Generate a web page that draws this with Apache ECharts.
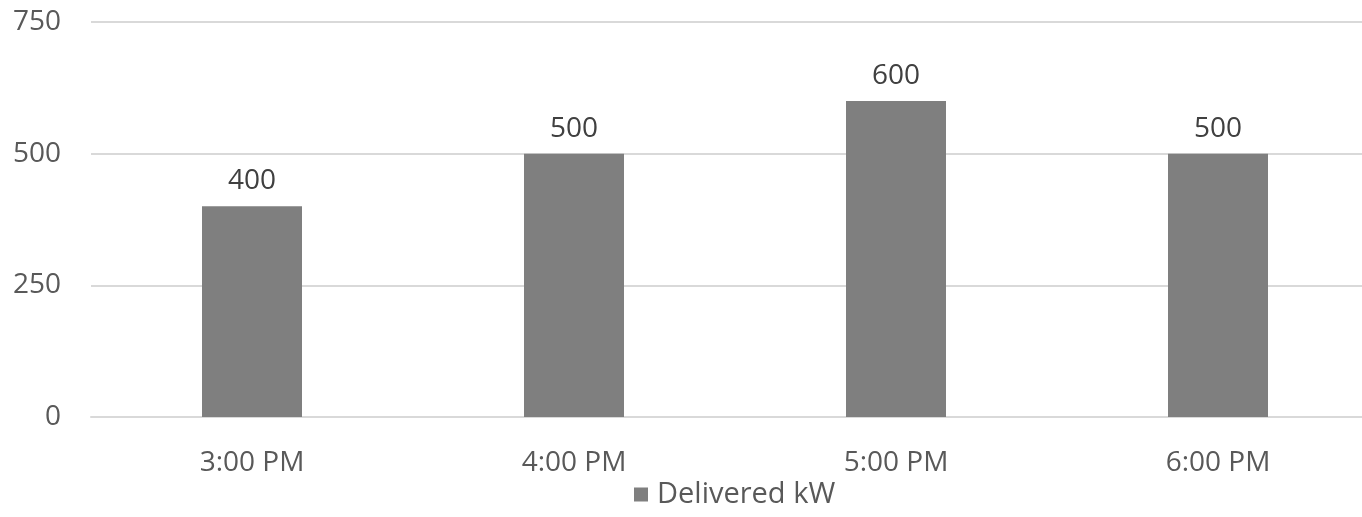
<!DOCTYPE html>
<html>
<head>
<meta charset="utf-8">
<script src="https://cdn.jsdelivr.net/npm/echarts@6/dist/echarts.min.js"></script>
<style>
html,body{margin:0;padding:0;background:#fff;overflow:hidden;width:1362px;height:517px;}
#chart{width:1379px;height:517px;}
</style>
</head>
<body>
<div id="chart"></div>
<script>
var categories = ['3:00 PM', '4:00 PM', '5:00 PM', '6:00 PM'];
var deliveredKW = [400, 500, 600, 500];
var seriesName = 'Delivered kW';
var yTicks = { min: 0, max: 750, interval: 250 };

var font = '"Open Sans", "Noto Sans", sans-serif';
var chart = echarts.init(document.getElementById('chart'), null, { renderer: 'canvas' });
chart.setOption({
  animation: false,
  textStyle: { fontFamily: font },
  grid: { left: 91, right: 0, top: 22, height: 395, containLabel: false },
  legend: {
    data: [seriesName],
    top: 475,
    left: 629,
    icon: 'rect',
    itemWidth: 14,
    itemHeight: 14,
    itemGap: 8,
    textStyle: { color: '#595959', fontSize: 29, fontFamily: font, padding: [0, 0, 0, 4] }
  },
  xAxis: {
    type: 'category',
    data: categories,
    axisLine: { show: true, lineStyle: { color: '#d9d9d9', width: 2 } },
    axisTick: { show: false },
    axisLabel: { color: '#595959', fontSize: 28, margin: 32, fontFamily: font }
  },
  yAxis: {
    type: 'value',
    min: yTicks.min,
    max: yTicks.max,
    interval: yTicks.interval,
    axisLine: { show: false },
    axisTick: { show: false },
    splitLine: { lineStyle: { color: '#d9d9d9', width: 2 } },
    axisLabel: { color: '#595959', fontSize: 28, margin: 30, fontFamily: font }
  },
  series: [{
    name: seriesName,
    type: 'bar',
    data: deliveredKW,
    barWidth: 100,
    itemStyle: { color: '#7f7f7f' },
    label: { show: true, position: 'top', distance: 11, color: '#404040', fontSize: 28, fontFamily: font }
  }]
});
</script>
</body>
</html>
